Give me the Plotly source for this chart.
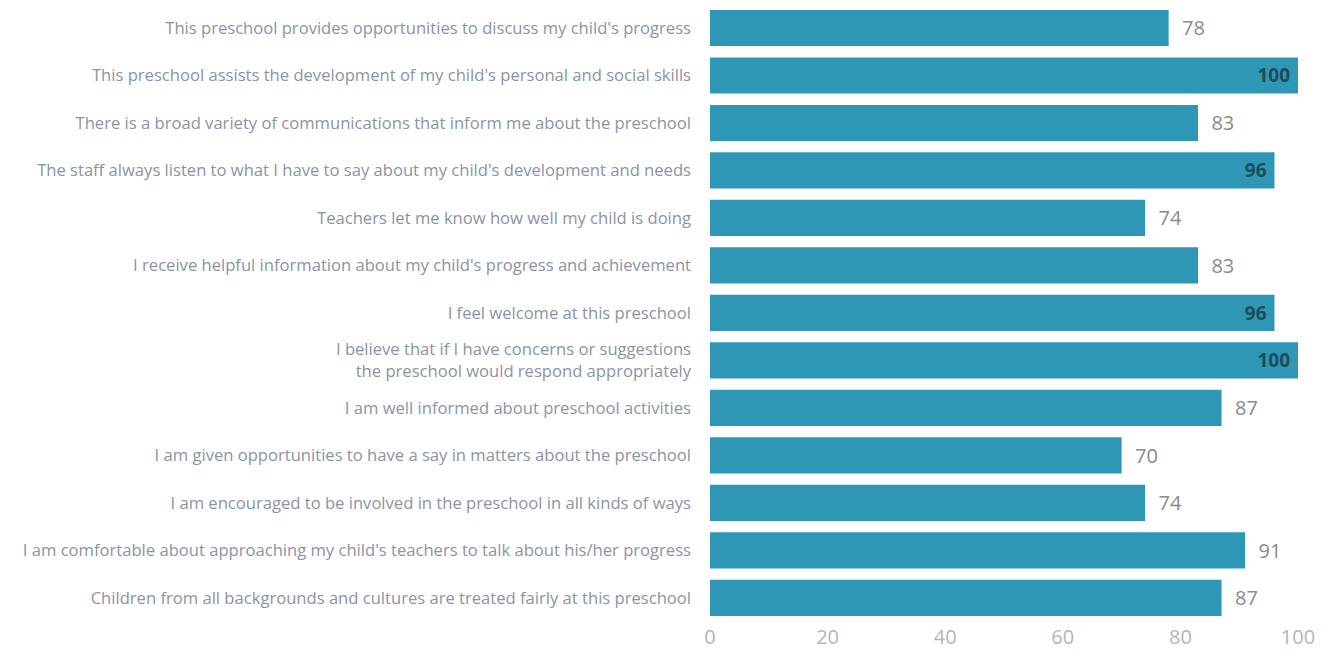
import plotly.graph_objects as go

# Survey statements, top to bottom
statements = [
    "This preschool provides opportunities to discuss my child's progress",
    "This preschool assists the development of my child's personal and social skills",
    "There is a broad variety of communications that inform me about the preschool",
    "The staff always listen to what I have to say about my child's development and needs",
    "Teachers let me know how well my child is doing",
    "I receive helpful information about my child's progress and achievement",
    "I feel welcome at this preschool",
    "I believe that if I have concerns or suggestions<br>the preschool would respond appropriately",
    "I am well informed about preschool activities",
    "I am given opportunities to have a say in matters about the preschool",
    "I am encouraged to be involved in the preschool in all kinds of ways",
    "I am comfortable about approaching my child's teachers to talk about his/her progress",
    "Children from all backgrounds and cultures are treated fairly at this preschool",
]
agree_pct = [78, 100, 83, 96, 74, 83, 96, 100, 87, 70, 74, 91, 87]

# Labels for the longest bars sit inside the bar
text_pos = ["inside" if v >= 95 else "outside" for v in agree_pct]
text_lbl = [str(v) + " " if v >= 95 else "  " + str(v) for v in agree_pct]

fig = go.Figure(
    go.Bar(
        x=agree_pct,
        y=statements,
        orientation="h",
        marker=dict(color="#2d97b5", line=dict(width=0)),
        text=text_lbl,
        textposition=text_pos,
        insidetextanchor="end",
        insidetextfont=dict(family="Open Sans", size=19, color="#1f4d5a", weight="bold"),
        outsidetextfont=dict(family="Open Sans", size=20, color="#8a8a8a"),
        cliponaxis=False,
    )
)

fig.update_layout(
    width=1335,
    height=662,
    margin=dict(l=702, r=45, t=0, b=47),
    paper_bgcolor="white",
    plot_bgcolor="white",
    bargap=0.24,
    showlegend=False,
    font=dict(family="Open Sans", color="#8a93a8"),
)

fig.update_xaxes(
    range=[0, 100],
    tickvals=[0, 20, 40, 60, 80, 100],
    tickfont=dict(size=20, color="#b5b5b5"),
    showgrid=False,
    zeroline=False,
    showline=False,
    automargin=False,
)

fig.update_yaxes(
    range=[12.53, -0.42],
    tickfont=dict(size=16.6, color="#8a93a8"),
    ticklabelstandoff=18,
    showgrid=False,
    showline=False,
    automargin=False,
)

fig.write_html("out.html")
